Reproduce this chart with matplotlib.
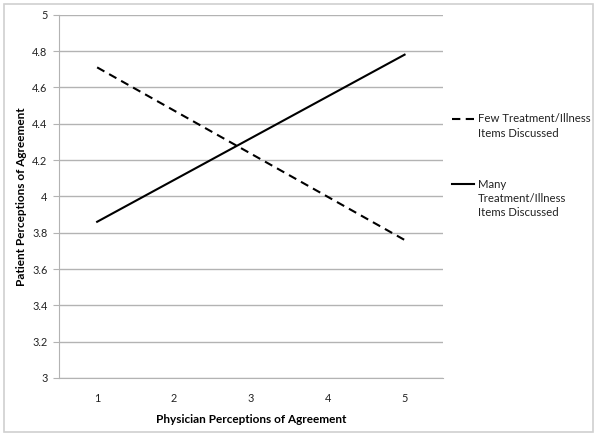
import matplotlib.pyplot as plt
from matplotlib.lines import Line2D
from matplotlib.patches import Rectangle

plt.rcParams["font.family"] = ["Lato", "DejaVu Sans"]

# data
physician = [1, 5]
few_items = [4.71, 3.76]
many_items = [3.86, 4.78]
x_ticks = [1, 2, 3, 4, 5]
y_ticks = [3, 3.2, 3.4, 3.6, 3.8, 4, 4.2, 4.4, 4.6, 4.8, 5]
y_tick_labels = ["3", "3.2", "3.4", "3.6", "3.8", "4", "4.2", "4.4", "4.6", "4.8", "5"]
few_label = ["Few Treatment/Illness", "Items Discussed"]
many_label = ["Many", "Treatment/Illness", "Items Discussed"]

W, H = 600, 437
fig = plt.figure(figsize=(6, 4.37), dpi=100)
ax = fig.add_axes([58.7 / W, 1 - 378 / H, (443 - 58.7) / W, (378 - 14.7) / H])

grid_color = "#b3b3b3"
ax.plot(physician, few_items, color="black", lw=1.5, linestyle=(0, (4, 2.6)))
ax.plot(physician, many_items, color="black", lw=1.5)

ax.set_xlim(0.5, 5.5)
ax.set_ylim(3, 5)
ax.set_xticks(x_ticks)
ax.set_yticks(y_ticks)
ax.set_yticklabels(y_tick_labels)
ax.yaxis.grid(True, color=grid_color, lw=1)
ax.set_axisbelow(True)
for side in ["top", "right"]:
    ax.spines[side].set_visible(False)
ax.spines["left"].set_color(grid_color)
ax.spines["bottom"].set_color(grid_color)
ax.tick_params(axis="y", length=4, color=grid_color, labelsize=7.8, pad=4, labelcolor="#222222")
ax.tick_params(axis="x", length=0, labelsize=7.8, pad=11, labelcolor="#222222")

ax.set_xlabel("Physician Perceptions of Agreement", fontsize=8.5, fontweight="bold", labelpad=7)
ax.set_ylabel("Patient Perceptions of Agreement", fontsize=8.5, fontweight="bold", labelpad=4)

# legend drawn by hand so the handle sits on the first text line
def legend_entry(y_px, lines, style):
    fig.add_artist(Line2D([452 / W, 474 / W], [1 - y_px / H] * 2, color="black",
                          lw=1.5, linestyle=style))
    for i, txt in enumerate(lines):
        fig.text(478 / W, 1 - (y_px + i * 14.5) / H, txt, fontsize=8.2,
                 va="center", ha="left", color="#222222")

legend_entry(119, few_label, (0, (4, 2.6)))
legend_entry(184, many_label, "-")

fig.add_artist(Rectangle((4 / W, 1 - 432 / H), (593 - 4) / W, (432 - 4) / H,
                         fill=False, edgecolor="#d0d0d0", lw=1.2,
                         transform=fig.transFigure))

fig.savefig("out.png", dpi=100)
